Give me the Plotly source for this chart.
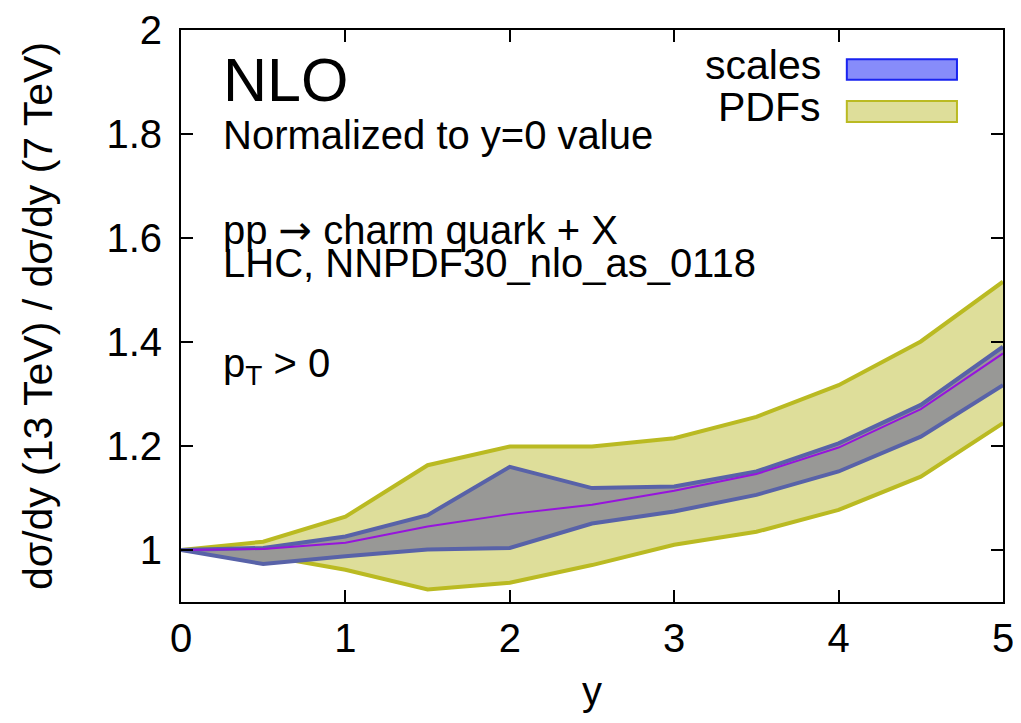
import plotly.graph_objects as go

# rapidity points
y_rap = [0, 0.5, 1, 1.5, 2, 2.5, 3, 3.5, 4, 4.5, 5]
central = [1.0, 1.002, 1.014, 1.045, 1.069, 1.087, 1.114, 1.146, 1.197, 1.271, 1.378]
scales_hi = [1.0, 1.004, 1.026, 1.067, 1.160, 1.119, 1.122, 1.151, 1.205, 1.279, 1.391]
scales_lo = [1.0, 0.973, 0.988, 1.001, 1.004, 1.051, 1.074, 1.106, 1.151, 1.218, 1.317]
pdf_hi = [1.0, 1.016, 1.064, 1.163, 1.199, 1.199, 1.215, 1.256, 1.317, 1.401, 1.516]
pdf_lo = [1.0, 0.990, 0.962, 0.924, 0.937, 0.971, 1.010, 1.035, 1.077, 1.141, 1.244]

x_ticks = [0, 1, 2, 3, 4, 5]
y_ticks = [1.0, 1.2, 1.4, 1.6, 1.8, 2.0]
y_tick_text = ["1", "1.2", "1.4", "1.6", "1.8", "2"]

FONT = "Liberation Sans, Arial, Helvetica, sans-serif"
PDF_FILL = "rgb(222,222,154)"
PDF_LINE = "rgb(186,186,34)"
SC_FILL = "rgb(152,152,150)"
SC_LINE = "rgb(88,98,168)"
CEN_LINE = "rgb(150,20,220)"

fig = go.Figure()
fig.add_trace(go.Scatter(x=y_rap, y=pdf_lo, mode="lines", line=dict(color=PDF_LINE, width=4),
                         showlegend=False, hoverinfo="skip"))
fig.add_trace(go.Scatter(x=y_rap, y=pdf_hi, mode="lines", line=dict(color=PDF_LINE, width=4),
                         fill="tonexty", fillcolor=PDF_FILL, showlegend=False, hoverinfo="skip"))
fig.add_trace(go.Scatter(x=y_rap, y=scales_lo, mode="lines", line=dict(color=SC_LINE, width=4),
                         showlegend=False, hoverinfo="skip"))
fig.add_trace(go.Scatter(x=y_rap, y=scales_hi, mode="lines", line=dict(color=SC_LINE, width=4),
                         fill="tonexty", fillcolor=SC_FILL, showlegend=False, hoverinfo="skip"))
fig.add_trace(go.Scatter(x=y_rap, y=central, mode="lines", line=dict(color=CEN_LINE, width=2),
                         showlegend=False))

# manual legend (paper coordinates)
fig.add_shape(type="rect", xref="paper", yref="paper", x0=0.810, x1=0.944, y0=0.913, y1=0.949,
              fillcolor="rgb(135,140,250)", line=dict(color="rgb(25,35,240)", width=2))
fig.add_shape(type="rect", xref="paper", yref="paper", x0=0.810, x1=0.944, y0=0.839, y1=0.876,
              fillcolor=PDF_FILL, line=dict(color=PDF_LINE, width=2))

def ann(text, x, y, size, xanchor="left"):
    fig.add_annotation(text=text, xref="paper", yref="paper", x=x, y=y, xanchor=xanchor,
                       yanchor="middle", showarrow=False, font=dict(family=FONT, size=size, color="black"))

ann("scales", 0.781, 0.939, 41, "right")
ann("PDFs", 0.781, 0.865, 41, "right")
ann("NLO", 0.049, 0.913, 61)
ann("Normalized to y=0 value", 0.049, 0.816, 40)
ann("pp <span style=\"font-family:'DejaVu Sans'\">\u2192</span> charm quark + X", 0.049, 0.650, 40)
ann("LHC, NNPDF30_nlo_as_0118", 0.049, 0.593, 40)
ann("p<sub>T</sub> > 0", 0.049, 0.412, 40)

axis_common = dict(showline=True, linecolor="black", linewidth=2, mirror="ticks", ticks="inside",
                   ticklen=12, tickwidth=2, tickcolor="black", showgrid=False, zeroline=False,
                   tickfont=dict(family=FONT, size=40, color="black"))

fig.update_xaxes(range=[0, 5], tickvals=x_ticks, ticktext=[str(v) for v in x_ticks],
                 title=dict(text="y", font=dict(family=FONT, size=40, color="black"), standoff=18),
                 ticklabelstandoff=0, **axis_common)
fig.update_yaxes(range=[0.9, 2.0], tickvals=y_ticks, ticktext=y_tick_text,
                 title=dict(text="d\u03c3/dy (13 TeV) / d\u03c3/dy (7 TeV)",
                            font=dict(family=FONT, size=41, color="black"), standoff=41),
                 ticklabelstandoff=9, **axis_common)

# page body has an 8px margin: shrink the figure so the plot lands where the reference has it
fig.update_layout(width=1013, height=715, plot_bgcolor="white", paper_bgcolor="white",
                  margin=dict(l=173, r=18, t=22, b=121, autoexpand=False),
                  font=dict(family=FONT, color="black"))

fig.write_html("out.html")
